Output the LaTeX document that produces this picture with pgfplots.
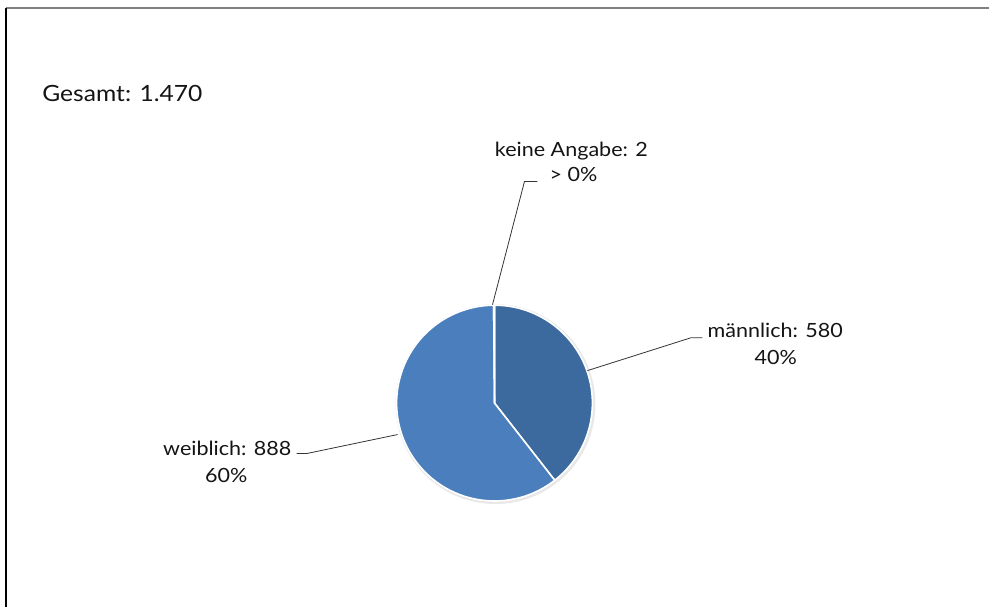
\documentclass[border=0pt]{standalone}
\usepackage{pgfplots}
\usepackage{pgfplotstable}
\pgfplotsset{compat=1.18}
\usepackage{fontspec}
\setmainfont{Lato}[FakeStretch=1.1]
\definecolor{male}{HTML}{3D6A9E}
\definecolor{female}{HTML}{4A7EBD}
\definecolor{na}{HTML}{8EA9D3}
\definecolor{txt}{HTML}{141414}

\pgfplotstableread{
cat value
maennlich 580
weiblich 888
keine 2
}\piedata

\pgfplotstablegetelem{0}{value}\of\piedata \let\vA\pgfplotsretval
\pgfplotstablegetelem{1}{value}\of\piedata \let\vB\pgfplotsretval
\pgfplotstablegetelem{2}{value}\of\piedata \let\vC\pgfplotsretval
\pgfmathsetmacro\total{\vA+\vB+\vC}
\pgfmathsetmacro\aA{90}
\pgfmathsetmacro\aB{90-\vA/\total*360}
\pgfmathsetmacro\aC{\aB-\vB/\total*360}
\pgfmathsetmacro\aD{\aC-\vC/\total*360}

\begin{document}
\begin{tikzpicture}
\begin{axis}[x=0.5pt, y=0.5pt, xmin=0, xmax=990, ymin=0, ymax=608,
  hide axis, clip=false, anchor=origin]
\path (axis cs:0,0) rectangle (axis cs:990,608);
% frame
\draw[gray, line width=1pt] (axis cs:6,600) -- (axis cs:990,600);
\draw[black, line width=1pt] (axis cs:6,600) -- (axis cs:6,0);
% shadow
\fill[gray!18] (axis cs:496,203.5) circle[radius=50pt];
% slices
\fill[male, draw=white, line width=0.8pt] (axis cs:495,204.5) -- ++(\aA:49pt) arc[start angle=\aA, end angle=\aB, radius=49pt] -- cycle;
\fill[female, draw=white, line width=0.8pt] (axis cs:495,204.5) -- ++(\aB:49pt) arc[start angle=\aB, end angle=\aC, radius=49pt] -- cycle;
\fill[na, draw=white, line width=0.8pt] (axis cs:495,204.5) -- ++(\aC:49pt) arc[start angle=\aC, end angle=\aD, radius=49pt] -- cycle;
% leader lines
\draw[black!80, line width=0.4pt] (axis cs:493,303) -- (axis cs:525,426.3) -- (axis cs:538,426.3);
\draw[black!80, line width=0.4pt] (axis cs:588,237) -- (axis cs:692,270) -- (axis cs:703,270);
\draw[black!80, line width=0.4pt] (axis cs:297,154) -- (axis cs:307,154) -- (axis cs:398,173);
% labels
\node[anchor=base west, inner sep=0pt, text=txt, font=\fontsize{11.2}{13}\selectfont] at (axis cs:42,506) {Gesamt: 1.470};
\node[anchor=base, inner sep=0pt, text=txt, font=\fontsize{9.8}{11}\selectfont] at (axis cs:572,451.5) {keine Angabe: 2};
\node[anchor=base, inner sep=0pt, text=txt, font=\fontsize{9.8}{11}\selectfont] at (axis cs:574,426) {> 0\%};
\node[anchor=base west, inner sep=0pt, text=txt, font=\fontsize{9.8}{11}\selectfont] at (axis cs:708,270) {männlich: 580};
\node[anchor=base, inner sep=0pt, text=txt, font=\fontsize{9.8}{11}\selectfont] at (axis cs:776.5,243) {40\%};
\node[anchor=base west, inner sep=0pt, text=txt, font=\fontsize{9.8}{11}\selectfont] at (axis cs:163,152) {weiblich: 888};
\node[anchor=base, inner sep=0pt, text=txt, font=\fontsize{9.8}{11}\selectfont] at (axis cs:226.5,125) {60\%};
\end{axis}
\end{tikzpicture}
\end{document}
